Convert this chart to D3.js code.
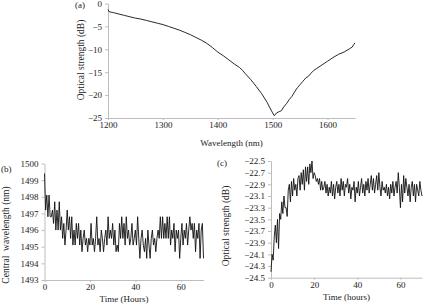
<!DOCTYPE html>
<html>
<head>
<meta charset="utf-8">
<script src="https://cdn.jsdelivr.net/npm/d3@7"></script>
<style>
  html, body { margin: 0; padding: 0; background: #fff; }
  svg text { font-family: "Liberation Serif", "Times New Roman", serif; fill: #222; }
  .axis path, .axis line { stroke: #bdbdbd; }
  .axis text { font-size: 9px; }
</style>
</head>
<body>
<svg id="chart" width="425" height="305"></svg>
<script>
// (a) transmission spectrum
const wavelengths = [1200, 1202, 1210, 1220, 1230, 1240, 1250, 1260, 1270, 1280, 1290, 1300, 1310, 1320, 1330,
  1340, 1350, 1360, 1370, 1380, 1390, 1400, 1410, 1420, 1430, 1440, 1445, 1450, 1460, 1470, 1480, 1490, 1495,
  1500, 1503, 1507, 1512, 1516, 1520, 1525, 1530, 1535, 1540, 1545, 1550, 1555, 1560, 1565, 1570, 1575, 1580,
  1590, 1600, 1610, 1620, 1630, 1640, 1645, 1648, 1650];
const spectrum = [-1.3, -1.8, -2.0, -2.3, -2.6, -2.9, -3.2, -3.4, -3.7, -4.0, -4.3, -4.6, -5.0, -5.4, -5.8,
  -6.3, -6.8, -7.4, -8.0, -8.7, -9.6, -10.6, -11.4, -12.3, -13.2, -14.0, -14.6, -15.3, -16.6, -18.1, -19.7, -21.6, -22.8,
  -23.9, -24.5, -23.9, -23.6, -23.4, -22.6, -21.9, -21.0, -20.3, -19.3, -18.4, -17.7, -17.0, -16.3, -15.9, -15.2, -14.6, -14.2,
  -13.4, -12.6, -11.8, -11.1, -10.6, -9.9, -9.5, -8.9, -8.6];

// (b) central wavelength vs time, one sample every half hour
const hoursB = d3.range(0, 70.01, 0.5);
const centralWl = [1499.4, 1497.2, 1498.1, 1496.8, 1498.1, 1496.8, 1496.8, 1497.2, 1496.4, 1497.7, 1496.0, 1497.2, 1496.0, 1497.7, 1496.0, 1496.8,
  1495.5, 1496.4, 1495.1, 1496.0, 1497.2, 1496.0, 1496.8, 1495.5, 1496.8, 1495.1, 1496.0, 1495.1, 1496.4, 1495.5, 1496.4, 1495.1,
  1496.0, 1494.7, 1495.5, 1496.0, 1495.1, 1495.5, 1494.7, 1495.5, 1495.1, 1496.4, 1495.1, 1495.5, 1494.7, 1495.5, 1496.8, 1495.1,
  1495.5, 1494.7, 1496.0, 1495.5, 1494.7, 1495.5, 1496.0, 1495.1, 1496.8, 1495.5, 1496.0, 1495.5, 1496.4, 1495.1, 1496.0, 1494.7,
  1495.1, 1494.7, 1496.4, 1495.5, 1496.8, 1495.5, 1496.4, 1495.1, 1496.8, 1495.5, 1496.0, 1495.1, 1495.5, 1496.4, 1495.1, 1495.5,
  1496.0, 1495.1, 1496.8, 1495.5, 1494.3, 1495.5, 1496.0, 1495.1, 1494.7, 1495.5, 1494.3, 1496.0, 1495.1, 1494.3, 1495.5, 1496.0,
  1495.1, 1495.5, 1494.7, 1495.5, 1496.0, 1495.5, 1496.8, 1495.5, 1496.8, 1495.5, 1496.4, 1495.5, 1496.8, 1495.5, 1496.8, 1495.1,
  1496.0, 1495.5, 1496.4, 1494.7, 1496.0, 1495.5, 1496.0, 1494.3, 1495.5, 1496.4, 1495.1, 1496.0, 1495.5, 1496.4, 1495.1, 1496.0,
  1496.8, 1496.0, 1496.4, 1495.5, 1496.4, 1494.7, 1496.0, 1495.5, 1496.4, 1494.3, 1496.0, 1496.4, 1494.3];

// (c) optical strength vs time
const hoursC = d3.range(0, 70.01, 0.5);
const strength = [-24.4, -24.1, -24.2, -23.8, -23.6, -23.9, -23.5, -24.0, -23.4, -23.5, -23.2, -23.4, -23.1, -23.3, -23.3, -23.45,
  -23.0, -22.9, -23.2, -22.85, -23.1, -22.8, -23.0, -22.9, -23.1, -22.8, -22.75, -23.0, -22.7, -22.9, -22.65, -23.0,
  -22.6, -22.85, -22.6, -22.9, -22.55, -22.7, -22.5, -22.8, -22.7, -22.75, -22.85, -22.8, -22.9, -22.8, -23.0, -22.85,
  -23.0, -22.95, -22.85, -23.05, -22.9, -23.1, -22.95, -23.05, -22.85, -23.1, -22.9, -23.15, -22.95, -22.85, -23.05, -22.9,
  -23.1, -22.8, -23.0, -22.85, -23.1, -22.9, -22.95, -22.8, -23.05, -22.9, -23.15, -22.95, -23.0, -22.85, -23.2, -22.95,
  -23.05, -22.85, -23.1, -22.95, -22.8, -23.05, -22.9, -23.1, -22.85, -23.0, -22.8, -23.05, -22.9, -22.75, -23.0, -22.8,
  -23.05, -22.9, -22.75, -23.0, -22.7, -22.95, -23.1, -22.85, -23.0, -22.95, -23.05, -22.9, -23.1, -22.95, -23.15, -22.9,
  -23.05, -22.85, -23.1, -22.95, -22.85, -23.05, -22.7, -22.95, -23.3, -22.9, -23.2, -22.75, -23.05, -22.8, -22.95, -23.1,
  -22.9, -23.2, -22.95, -22.85, -23.1, -22.9, -23.2, -22.9, -23.0, -23.1, -22.85, -23.0, -23.1];

const ticksA = { x: [1200, 1300, 1400, 1500, 1600], y: [0, -5, -10, -15, -20, -25] };
const ticksB = { x: [0, 20, 40, 60], y: [1493, 1494, 1495, 1496, 1497, 1498, 1499, 1500] };
const ticksC = { x: [0, 20, 40, 60], y: [-22.5, -22.7, -22.9, -23.1, -23.3, -23.5, -23.7, -23.9, -24.1, -24.3, -24.5] };

const svg = d3.select('#chart');

function panel({ xs, ys, xDomain, yDomain, xRange, yRange, ticks, yFmt, tag, tagPos, xLabel, xLabelY, yLabel, yLabelPos }) {
  const x = d3.scaleLinear().domain(xDomain).range(xRange);
  const y = d3.scaleLinear().domain(yDomain).range(yRange);

  svg.append('g').attr('class', 'axis')
    .attr('transform', `translate(0,${yRange[0]})`)
    .call(d3.axisBottom(x).tickValues(ticks.x).tickSize(2).tickSizeOuter(0).tickPadding(2).tickFormat(d3.format('d')));
  svg.append('g').attr('class', 'axis')
    .attr('transform', `translate(${xRange[0]},0)`)
    .call(d3.axisLeft(y).tickValues(ticks.y).tickSize(3).tickSizeOuter(0).tickPadding(3).tickFormat(yFmt));

  const line = d3.line().x((d, i) => x(xs[i])).y((d) => y(d));
  svg.append('path')
    .attr('d', line(ys))
    .attr('fill', 'none')
    .attr('stroke', '#111')
    .attr('stroke-width', 0.9)
    .attr('stroke-linejoin', 'round');

  svg.append('text').attr('x', tagPos[0]).attr('y', tagPos[1]).attr('font-size', 9).text(tag);
  svg.append('text').attr('x', (xRange[0] + xRange[1]) / 2).attr('y', xLabelY)
    .attr('text-anchor', 'middle').attr('font-size', 9).text(xLabel);
  svg.append('text')
    .attr('transform', `translate(${yLabelPos[0]},${yLabelPos[1]}) rotate(-90)`)
    .attr('text-anchor', 'middle').attr('font-size', 9.5).attr('xml:space', 'preserve').text(yLabel);
}

panel({
  xs: wavelengths, ys: spectrum,
  xDomain: [1200, 1650], yDomain: [-25, 0], xRange: [108, 355], yRange: [118, 3.5],
  ticks: ticksA, yFmt: d3.format('d'),
  tag: '(a)', tagPos: [75, 8],
  xLabel: 'Wavelength (nm)', xLabelY: 146,
  yLabel: 'Optical strength (dB)', yLabelPos: [84, 60],
});

panel({
  xs: hoursB, ys: centralWl,
  xDomain: [0, 70], yDomain: [1493, 1500], xRange: [44.5, 203.5], yRange: [280, 163.5],
  ticks: ticksB, yFmt: d3.format('d'),
  tag: '(b)', tagPos: [1, 172],
  xLabel: 'Time (Hours)', xLabelY: 302,
  yLabel: 'Central  wavelength (nm)', yLabelPos: [9, 235],
});

panel({
  xs: hoursC, ys: strength,
  xDomain: [0, 70], yDomain: [-24.5, -22.5], xRange: [271, 422], yRange: [277.7, 161],
  ticks: ticksC, yFmt: d3.format('.1f'),
  tag: '(c)', tagPos: [217, 166],
  xLabel: 'Time (hours)', xLabelY: 300,
  yLabel: 'Optical strength (dB)', yLabelPos: [229, 226],
});
</script>
</body>
</html>
